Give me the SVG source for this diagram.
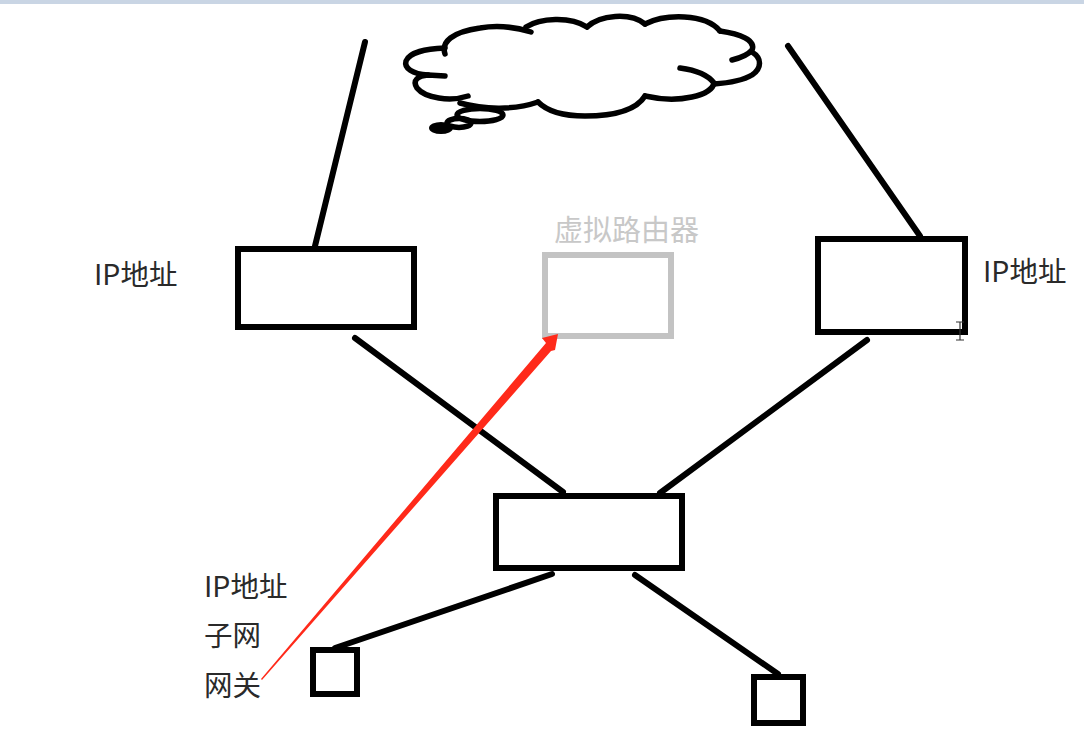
<svg xmlns="http://www.w3.org/2000/svg" width="1084" height="754" viewBox="0 0 1084 754">
<style>
.box{fill:none;stroke:#000;stroke-width:6}
.grey{fill:none;stroke:#c3c3c3;stroke-width:6}
.wire{stroke:#000;stroke-width:6;stroke-linecap:round;fill:none}
.cloud{fill:none;stroke:#000;stroke-width:5.500;stroke-linecap:round;stroke-linejoin:round}
text{font-family:"Noto Sans CJK SC","Noto Sans",sans-serif;font-size:28.500px;fill:#2a2a2a}
</style>
<rect width="1084" height="754" fill="#fff"/>
<rect id="topbar" width="1084" height="4" fill="#c9d5e4"/>
<g id="cloud" class="cloud">
<path d="M445 54C441 42 452 32 480 28C497 25 515 27 531 32"/>
<path d="M526 27C540 18 570 16 587 27"/>
<path d="M587 27C600 15 630 12 645 24"/>
<path d="M645 24C665 14 705 13 720 31"/>
<path d="M720 31C740 34 756 40 752 50C748 55 740 58 732 60"/>
<path d="M752 52C762 58 762 68 752 75C742 81 728 83 714 84"/>
<path d="M680 68C695 70 708 75 714 83C712 95 680 104 645 96"/>
<path d="M645 96C635 112 610 116 585 116C565 116 548 112 538 102"/>
<path d="M538 102C515 110 485 110 460 103"/>
<path d="M468 96C450 102 425 98 417 88C412 80 418 76 428 75L445 76"/>
<path d="M428 75C412 74 404 68 406 61C410 52 425 49 445 48"/>
<ellipse cx="480" cy="115" rx="23" ry="6.500"/>
<ellipse cx="459" cy="123" rx="12" ry="4.500"/>
<ellipse cx="441" cy="128" rx="11" ry="5" fill="#000" stroke-width="2"/>
</g>
<g id="connectors">
<path class="wire" d="M365 42L315 246"/>
<path class="wire" d="M788 46L920 236"/>
<path class="wire" d="M355 338L563 492"/>
<path class="wire" d="M867 340L660 493"/>
<path class="wire" d="M552 574L335 648"/>
<path class="wire" d="M635 575L778 674"/>
</g>
<g id="router-left"><rect class="box" x="238" y="249" width="176" height="78"/></g>
<g id="router-virtual"><rect class="grey" x="545" y="255" width="126" height="81"/></g>
<g id="router-right"><rect class="box" x="818" y="239" width="147" height="93"/></g>
<g id="router-bottom"><rect class="box" x="496" y="496" width="186" height="72"/></g>
<g id="host-left"><rect class="box" x="313" y="650" width="44" height="44"/></g>
<g id="host-right"><rect class="box" x="754" y="677" width="49" height="46"/></g>
<g id="labels">
<text x="94" y="285">IP地址</text>
<text x="983" y="282">IP地址</text>
<text x="554" y="241" style="fill:#c8c8c8;font-size:29px">虚拟路由器</text>
<text x="204" y="597">IP地址</text>
<text x="204" y="646">子网</text>
<text x="204" y="696">网关</text>
</g>
<g id="red-arrow"><polygon points="261,679 262,680 551,351 555,350 558,334 542,338 546,343" fill="#ff2a1a"/></g>
<g id="cursor"><path d="M956 322H964M960 322V340M956 340H964" stroke="#333" stroke-width="1.200" fill="none"/></g>
</svg>
